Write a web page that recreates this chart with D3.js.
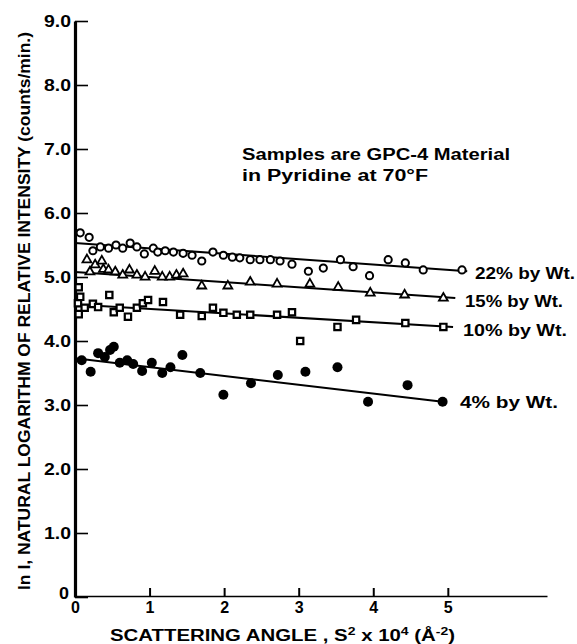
<!DOCTYPE html>
<html>
<head>
<meta charset="utf-8">
<script src="https://cdn.jsdelivr.net/npm/d3@7"></script>
<style>
  body { margin: 0; background: #fff; }
  text { font-family: "Liberation Sans", "DejaVu Sans", sans-serif; font-weight: bold; fill: #000; }
</style>
</head>
<body>
<div class="chart"></div>
<script>
// data: s = S^2 x 10^4, v = ln I
var s22 = [0.07, 0.19, 0.24, 0.34, 0.45, 0.55, 0.64, 0.74, 0.83, 0.93, 1.05, 1.11, 1.21, 1.32, 1.45, 1.57, 1.70, 1.85, 1.99, 2.11, 2.21, 2.35, 2.48, 2.62, 2.75, 2.91, 3.13, 3.33, 3.56, 3.73, 3.95, 4.20, 4.43, 4.67, 5.19];
var v22 = [5.69, 5.62, 5.41, 5.47, 5.45, 5.50, 5.45, 5.53, 5.47, 5.36, 5.45, 5.39, 5.41, 5.39, 5.37, 5.34, 5.25, 5.39, 5.34, 5.31, 5.30, 5.27, 5.27, 5.27, 5.25, 5.20, 5.09, 5.14, 5.27, 5.16, 5.02, 5.27, 5.22, 5.11, 5.11];

var s15 = [0.16, 0.20, 0.27, 0.36, 0.38, 0.45, 0.54, 0.64, 0.73, 0.83, 0.94, 1.07, 1.17, 1.27, 1.36, 1.45, 1.70, 2.05, 2.35, 2.71, 3.15, 3.53, 3.96, 4.42, 4.94];
var v15 = [5.27, 5.08, 5.19, 5.25, 5.12, 5.11, 5.08, 5.03, 5.11, 5.03, 5.00, 5.09, 5.00, 5.00, 5.03, 5.05, 4.86, 4.86, 4.92, 4.89, 4.89, 4.84, 4.75, 4.72, 4.67];

var s10 = [0.05, 0.07, 0.04, 0.05, 0.13, 0.24, 0.31, 0.46, 0.52, 0.60, 0.71, 0.83, 0.91, 0.98, 1.18, 1.41, 1.70, 1.85, 1.99, 2.17, 2.35, 2.71, 2.91, 3.02, 3.52, 3.77, 4.43, 4.94];
var v10 = [4.84, 4.69, 4.59, 4.42, 4.52, 4.58, 4.53, 4.72, 4.45, 4.52, 4.38, 4.52, 4.59, 4.64, 4.61, 4.41, 4.39, 4.52, 4.44, 4.41, 4.41, 4.41, 4.45, 4.00, 4.22, 4.33, 4.28, 4.22];

var s4 = [0.09, 0.21, 0.31, 0.40, 0.47, 0.52, 0.60, 0.70, 0.78, 0.90, 1.03, 1.17, 1.28, 1.44, 1.68, 1.99, 2.36, 2.72, 3.09, 3.52, 3.93, 4.46, 4.93];
var v4 = [3.70, 3.52, 3.81, 3.75, 3.86, 3.91, 3.66, 3.70, 3.64, 3.53, 3.66, 3.50, 3.59, 3.78, 3.50, 3.16, 3.34, 3.47, 3.52, 3.59, 3.05, 3.31, 3.05];

// fitted lines: [s start, v start, s end, v end]
var fit22 = [0, 5.53, 5.26, 5.09];
var fit15 = [0, 5.08, 5.10, 4.67];
var fit10 = [0, 4.57, 5.07, 4.22];
var fit4 = [0, 3.73, 4.93, 3.05];

var seriesLabels = ["22% by Wt.", "15% by Wt.", "10% by Wt.", "4% by Wt."];
var xTicks = [0, 1, 2, 3, 4, 5];
var yTicks = [0, 1, 2, 3, 4, 5, 6, 7, 8, 9];

var WIDTH = 577, HEIGHT = 644;

var xScale = d3.scaleLinear().domain([0, 6.33]).range([75, 547]);
var yScale = d3.scaleLinear().domain([0, 9]).range([597, 21]);

var svg = d3.select('.chart').append("svg")
    .attr("width", WIDTH)
    .attr("height", HEIGHT);

// axes
var yAxis = d3.axisLeft(yScale)
    .tickValues(yTicks)
    .tickSizeInner(-13)
    .tickSizeOuter(0)
    .tickPadding(4)
    .tickFormat(function (d) { return d === 0 ? "0" : d.toFixed(1); });

var gy = svg.append("g")
    .attr("transform", "translate(" + xScale(0) + ",0)")
    .call(yAxis)
    .attr("font-size", 17)
    .attr("font-family", null);
gy.select(".domain").attr("stroke-width", 3.2);
gy.selectAll(".tick line").attr("stroke-width", 1.6);
gy.selectAll(".tick text")
    .attr("font-size", 17)
    .style("font-size", "17px")
    .attr("textLength", function (d) { return d === 0 ? 10 : 27; })
    .attr("lengthAdjust", "spacingAndGlyphs");
// the zero label sits just above the x axis zero
gy.selectAll(".tick text").filter(function (d) { return d === 0; })
    .attr("dy", "0.1em")
    .attr("x", -6);

var xAxis = d3.axisBottom(xScale)
    .tickValues(xTicks)
    .tickSizeInner(-8)
    .tickSizeOuter(0)
    .tickPadding(6)
    .tickFormat(d3.format("d"));

var gx = svg.append("g")
    .attr("transform", "translate(0," + (yScale(0) - 1) + ")")
    .call(xAxis)
    .attr("font-size", 16)
    .attr("font-family", null);
gx.select(".domain").attr("stroke-width", 1.6);
gx.selectAll(".tick line").attr("stroke-width", 2);
gx.selectAll(".tick text")
    .attr("font-size", 16)
    .style("font-size", "16px");

// axis titles
svg.append("text")
    .attr("transform", "translate(30," + 311 + ") rotate(-90)")
    .attr("text-anchor", "middle")
    .attr("textLength", 558)
    .attr("lengthAdjust", "spacingAndGlyphs")
    .style("font-size", "17px")
    .text("ln I, NATURAL LOGARITHM OF RELATIVE INTENSITY (counts/min.)");

var xt = svg.append("text")
    .attr("x", 110)
    .attr("y", 641)
    .attr("textLength", 345)
    .attr("lengthAdjust", "spacingAndGlyphs")
    .style("font-size", "16px");
xt.append("tspan").text("SCATTERING ANGLE , S");
xt.append("tspan").attr("dy", -6).style("font-size", "11px").text("2");
xt.append("tspan").attr("dy", 6).text(" x 10");
xt.append("tspan").attr("dy", -6).style("font-size", "11px").text("4");
xt.append("tspan").attr("dy", 6).text(" (Å");
xt.append("tspan").attr("dy", -6).style("font-size", "11px").text("-2");
xt.append("tspan").attr("dy", 6).text(")");

// note
svg.append("text")
    .attr("x", 242).attr("y", 160)
    .attr("textLength", 268)
    .attr("lengthAdjust", "spacingAndGlyphs")
    .style("font-size", "16px")
    .text("Samples are GPC-4 Material");
svg.append("text")
    .attr("x", 242).attr("y", 181)
    .attr("textLength", 186)
    .attr("lengthAdjust", "spacingAndGlyphs")
    .style("font-size", "16px")
    .text("in Pyridine at 70°F");

// fitted lines
var fits = [fit22, fit15, fit10, fit4];
svg.selectAll("line.fit")
    .data(fits)
    .enter()
    .append("line")
    .attr("class", "fit")
    .attr("x1", function (d) { return xScale(d[0]); })
    .attr("y1", function (d) { return yScale(d[1]); })
    .attr("x2", function (d) { return xScale(d[2]); })
    .attr("y2", function (d) { return yScale(d[3]); })
    .attr("stroke", "#000")
    .attr("stroke-width", 2);

function zip(s, v) {
    return s.map(function (d, i) { return { s: d, v: v[i] }; });
}

// 22% - open circles
svg.append("g").selectAll("circle")
    .data(zip(s22, v22))
    .enter()
    .append("circle")
    .attr("cx", function (d) { return xScale(d.s); })
    .attr("cy", function (d) { return yScale(d.v); })
    .attr("r", 3.6)
    .attr("fill", "#fff")
    .attr("stroke", "#000")
    .attr("stroke-width", 2);

// 15% - open triangles
svg.append("g").selectAll("path")
    .data(zip(s15, v15))
    .enter()
    .append("path")
    .attr("d", d3.symbol(d3.symbolTriangle).size(34))
    .attr("transform", function (d) { return "translate(" + xScale(d.s) + "," + yScale(d.v) + ")"; })
    .attr("fill", "#fff")
    .attr("stroke", "#000")
    .attr("stroke-width", 1.8);

// 10% - open squares
svg.append("g").selectAll("path")
    .data(zip(s10, v10))
    .enter()
    .append("path")
    .attr("d", d3.symbol(d3.symbolSquare).size(40))
    .attr("transform", function (d) { return "translate(" + xScale(d.s) + "," + yScale(d.v) + ")"; })
    .attr("fill", "#fff")
    .attr("stroke", "#000")
    .attr("stroke-width", 2.2);

// 4% - filled circles
svg.append("g").selectAll("circle")
    .data(zip(s4, v4))
    .enter()
    .append("circle")
    .attr("cx", function (d) { return xScale(d.s); })
    .attr("cy", function (d) { return yScale(d.v); })
    .attr("r", 5)
    .attr("fill", "#000");

// series labels at line ends
var labelPos = [[475, 279, 100], [465, 307, 98], [463, 336, 104], [460, 408, 98]];
svg.selectAll("text.series")
    .data(seriesLabels)
    .enter()
    .append("text")
    .attr("class", "series")
    .attr("x", function (d, i) { return labelPos[i][0]; })
    .attr("y", function (d, i) { return labelPos[i][1]; })
    .attr("textLength", function (d, i) { return labelPos[i][2]; })
    .attr("lengthAdjust", "spacingAndGlyphs")
    .style("font-size", "17px")
    .text(function (d) { return d; });
</script>
</body>
</html>
